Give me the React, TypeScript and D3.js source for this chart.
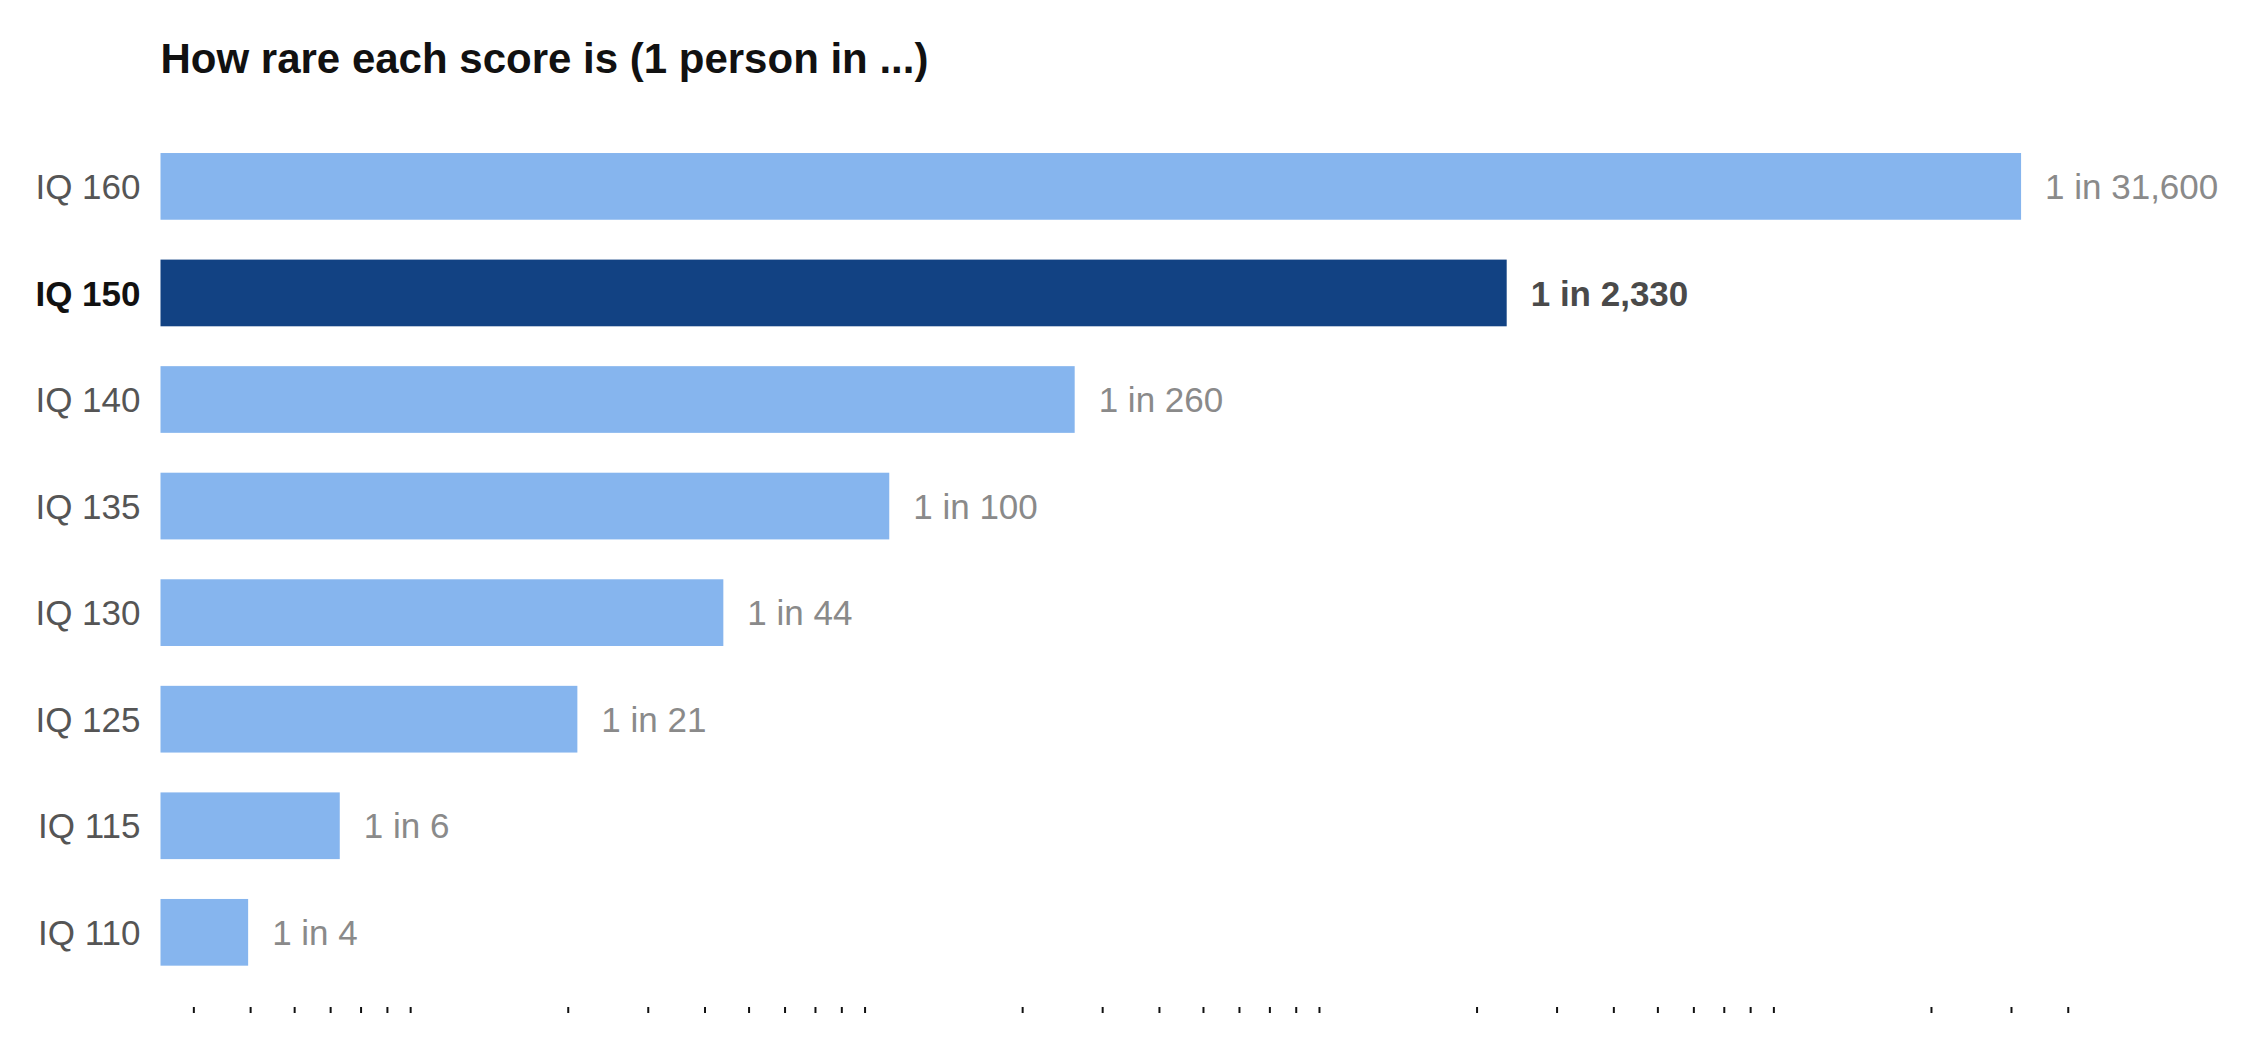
import React, { useEffect, useRef } from "react";
import * as d3 from "d3";

// IQ scores and how rare each one is (1 person in N)
const categories = ["IQ 160", "IQ 150", "IQ 140", "IQ 135", "IQ 130", "IQ 125", "IQ 115", "IQ 110"];
// bar lengths follow the unrounded rarity, the labels show it rounded
const oneIn = [31574, 2330, 261, 102, 44, 21, 6.3, 3.96];
const valueLabels = ["1 in 31,600", "1 in 2,330", "1 in 260", "1 in 100", "1 in 44", "1 in 21", "1 in 6", "1 in 4"];
const highlighted = "IQ 150";
const title = "How rare each score is (1 person in ...)";

const W = 2256,
  H = 1040;

function createChart(node: SVGSVGElement) {
  const svg = d3.select(node);
  svg.selectAll("*").remove();

  const font = "'Liberation Sans', Arial, Helvetica, sans-serif";
  const margin = { top: 133.1, left: 160.5, right: 165, bottom: 54.4 };

  const data = categories.map((c, i) => ({ label: c, value: oneIn[i], text: valueLabels[i] }));

  const x = d3.scaleLog().domain([2.54, 45000]).range([margin.left, W - margin.right]);
  const y = d3
    .scaleBand()
    .domain(categories)
    .range([margin.top, H - margin.bottom])
    .paddingInner(0.374)
    .paddingOuter(0.187);

  // title
  svg
    .append("text")
    .attr("x", margin.left)
    .attr("y", 73)
    .attr("font-family", font)
    .attr("font-size", 42)
    .attr("font-weight", "bold")
    .attr("fill", "#111")
    .text(title);

  // bars
  svg
    .selectAll(".bar")
    .data(data)
    .enter()
    .append("rect")
    .attr("class", "bar")
    .attr("x", x.range()[0])
    .attr("y", (d) => y(d.label) as number)
    .attr("height", y.bandwidth())
    .attr("width", (d) => x(d.value) - x.range()[0])
    .attr("fill", (d) => (d.label === highlighted ? "#124283" : "#86b5ee"));

  // category labels
  svg
    .selectAll(".cat")
    .data(data)
    .enter()
    .append("text")
    .attr("class", "cat")
    .attr("x", x.range()[0] - 20)
    .attr("y", (d) => (y(d.label) as number) + y.bandwidth() / 2)
    .attr("dy", "0.36em")
    .attr("text-anchor", "end")
    .attr("font-family", font)
    .attr("font-size", 35)
    .attr("font-weight", (d) => (d.label === highlighted ? "bold" : "normal"))
    .attr("fill", (d) => (d.label === highlighted ? "#111" : "#555"))
    .text((d) => d.label);

  // value labels
  svg
    .selectAll(".val")
    .data(data)
    .enter()
    .append("text")
    .attr("class", "val")
    .attr("x", (d) => x(d.value) + 24)
    .attr("y", (d) => (y(d.label) as number) + y.bandwidth() / 2)
    .attr("dy", "0.36em")
    .attr("font-family", font)
    .attr("font-size", 35)
    .attr("font-weight", (d) => (d.label === highlighted ? "bold" : "normal"))
    .attr("fill", (d) => (d.label === highlighted ? "#4a4a4a" : "#8a8a8a"))
    .text((d) => d.text);

  // log axis: minor ticks only, no labels, no powers of ten
  const isPow10 = (t: number) => Math.abs(Math.log10(t) - Math.round(Math.log10(t))) < 1e-9;
  const axis = svg
    .append("g")
    .attr("transform", `translate(0,${1007})`)
    .call(
      d3
        .axisBottom(x)
        .tickValues(x.ticks().filter((t) => !isPow10(t)))
        .tickSize(6)
        .tickFormat(() => "")
    );
  axis.select(".domain").remove();
  axis.selectAll(".tick line").attr("stroke", "#111").attr("stroke-width", 2);
}

export default function App() {
  const ref = useRef<SVGSVGElement>(null);
  useEffect(() => {
    if (ref.current) createChart(ref.current);
  }, []);
  return (
    <div style={{ position: "absolute", left: 0, top: 0, background: "#fff" }}>
      <svg ref={ref} width={W} height={H} style={{ display: "block" }}></svg>
    </div>
  );
}
